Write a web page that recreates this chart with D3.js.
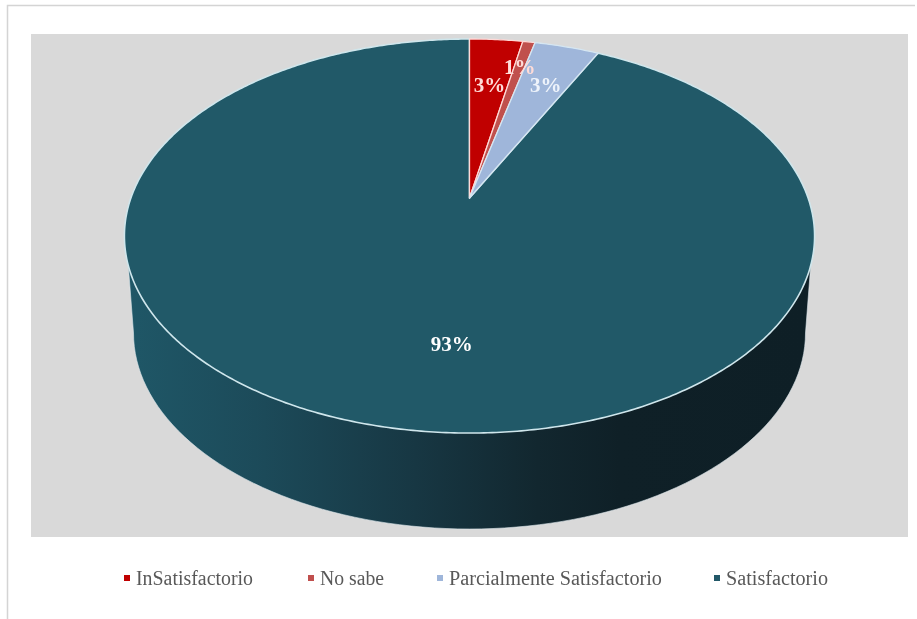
<!DOCTYPE html>
<html><head><meta charset="utf-8">
<style>html,body{margin:0;padding:0;background:#fff}svg{display:block}</style>
<script src="https://cdn.jsdelivr.net/npm/d3@7/dist/d3.min.js"></script></head>
<body><svg id="c" width="917" height="619"></svg>
<script>
const categories = ["InSatisfactorio","No sabe","Parcialmente Satisfactorio","Satisfactorio"];
const values = [3.0,0.7,3.64,92.66];
const valueLabels = ["3%","1%","3%","93%"];
const colors = ["#c00000","#c0504d","#9fb6da","#215968"];
const labelColors = ["#ffdcd8","#ffdcd8","#eef3fb","#ffffff"];
const edgeColors = ["#ffd9d6","#ffd9d6","#d5e6f2","#cfe6ec"];

const svg = d3.select("#c");
// layout of the perspective disc
const cx=469.5, apexY=198, R=338.6, B=189.7, k=0.193;
const project=(a,f)=>{const u=f*Math.sin(a),v=-f*Math.cos(a),w=1-k*v;return [cx+R*u/w,apexY+B*v/w];};
const wedge=(s,e)=>{
  const n=Math.max(4,Math.ceil((e-s)/0.01));
  const pts=d3.range(n+1).map(i=>project(s+(e-s)*i/n,1));
  return d3.line()([[cx,apexY],...pts])+"Z";
};
const defs=svg.append("defs");
const g=defs.append("linearGradient").attr("id","side").attr("x1",0).attr("x2",1).attr("y1",0).attr("y2",0);
[[0,"#1f5767"],[.2,"#1c4a59"],[.42,"#173743"],[.6,"#12272f"],[.72,"#0f2027"],[1,"#0e1f26"]]
 .forEach(([o,c])=>g.append("stop").attr("offset",o).attr("stop-color",c));
defs.append("filter").attr("id","soft").append("feGaussianBlur").attr("stdDeviation",0.6);

// frame and plot area
svg.append("path").attr("d","M7.5 619V5.5H915").attr("fill","none").attr("stroke","#d4d4d4").attr("stroke-width",1.5);
svg.append("rect").attr("x",31).attr("y",34).attr("width",877).attr("height",503).attr("fill","#d9d9d9");

// side wall
const topEll={cy:236,rx:345,ry:197}, botEll={cy:333,rx:336,ry:196}, seamY=265;
const seamDx=topEll.rx*Math.sqrt(1-((seamY-topEll.cy)/topEll.ry)**2);
const botPts=d3.range(0,181,2).map(d=>{const t=d*Math.PI/180;return [cx-botEll.rx*Math.cos(t),botEll.cy+botEll.ry*Math.sin(t)];});
const sidePts=[[cx-seamDx,seamY],...botPts,[cx+seamDx,seamY],[cx+seamDx,topEll.cy],[cx-seamDx,topEll.cy]];
svg.append("path").attr("d",d3.line()(sidePts)+"Z").attr("fill","url(#side)").attr("stroke","#dfeaee").attr("stroke-width",0.6);

// top slices
const arcs=d3.pie().sort(null)(values);
const order=[3,0,1,2];
svg.append("g").selectAll("path").data(order.map(i=>arcs[i])).join("path")
  .attr("d",d=>wedge(d.startAngle,d.endAngle))
  .attr("fill",d=>colors[d.index])
  .attr("stroke",d=>edgeColors[d.index])
  .attr("stroke-width",d=>d.index==3?1.6:1.3)
  .attr("stroke-linejoin","round");

// data labels
const labelFrac=[.676,.82,.72,.685], labelDx=[1,0,3,43];
svg.append("g").selectAll("text").data(arcs).join("text")
  .attr("transform",(d,i)=>{const p=project((d.startAngle+d.endAngle)/2,labelFrac[i]);return `translate(${p[0]+labelDx[i]},${p[1]})`;})
  .attr("text-anchor","middle").attr("dy","0.35em")
  .attr("font-family","'Liberation Serif',serif").attr("font-weight","bold").attr("font-size",21)
  .attr("fill",(d,i)=>labelColors[i]).attr("filter","url(#soft)")
  .text((d,i)=>valueLabels[i]);

// legend
const legendStart=[136,320,449,726], legendWidth=[117,64,213,102];
const leg=svg.append("g").selectAll("g").data(categories).join("g")
  .attr("transform",(d,i)=>`translate(${legendStart[i]},578)`);
leg.append("rect").attr("x",-12).attr("y",-3).attr("width",6).attr("height",6).attr("fill",(d,i)=>colors[i]).attr("filter","url(#soft)");
leg.append("text").attr("dy","0.33em")
  .attr("font-family","'Liberation Serif',serif").attr("font-size",20).attr("fill","#595959")
  .attr("textLength",(d,i)=>legendWidth[i]).attr("lengthAdjust","spacingAndGlyphs")
  .attr("filter","url(#soft)").text(d=>d);
</script></body></html>
